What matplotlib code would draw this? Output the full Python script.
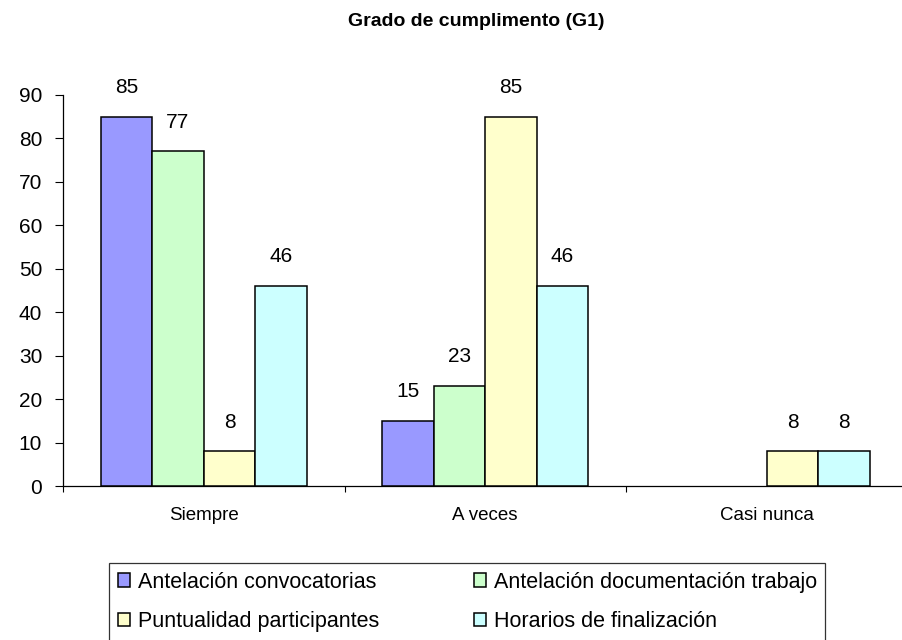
import matplotlib
matplotlib.use("Agg")
import matplotlib.pyplot as plt
import numpy as np

categories = ["Siempre", "A veces", "Casi nunca"]
series_names = ["Antelación convocatorias", "Antelación documentación trabajo",
                "Puntualidad participantes", "Horarios de finalización"]
antelacion_conv = [85, 15, np.nan]
antelacion_doc = [77, 23, np.nan]
puntualidad = [8, 85, 8]
horarios = [46, 46, 8]
series_values = [antelacion_conv, antelacion_doc, puntualidad, horarios]
colors = ["#9999FF", "#CCFFCC", "#FFFFCC", "#CCFFFF"]
yticks = [0, 10, 20, 30, 40, 50, 60, 70, 80, 90]

plt.rcParams['font.family'] = ['Liberation Sans', 'DejaVu Sans']

W, H = 902, 640
fig = plt.figure(figsize=(W / 100, H / 100), dpi=100)
left, right, top, bottom = 63, 907.5, 95, 486
ax = fig.add_axes([left / W, 1 - bottom / H, (right - left) / W, (bottom - top) / H])

x = np.arange(len(categories))
bw = 0.183
handles = []
for j, (name, vals, c) in enumerate(zip(series_names, series_values, colors)):
    xs = x + (j - 1.5) * bw
    bars = ax.bar(xs, vals, width=bw, color=c, edgecolor="black", linewidth=1.1, label=name, zorder=3)
    handles.append(bars)
    for xi, v in zip(xs, vals):
        if not np.isnan(v):
            ax.annotate(f"{v:g}", (xi, v), xytext=(0, 21), textcoords="offset points",
                        ha="center", va="center", fontsize=15)

ax.set_xlim(-0.5, len(categories) - 0.5)
ax.set_ylim(0, 90)
ax.set_yticks(yticks)
ax.tick_params(axis="y", direction="out", length=6, width=0.8, pad=9, labelsize=15)
ax.set_xticks(np.arange(len(categories) + 1) - 0.5)
ax.set_xticklabels([])
ax.set_xticks(x, minor=True)
ax.set_xticklabels(categories, minor=True)
ax.tick_params(axis="x", which="major", direction="out", length=4.5, width=0.8)
ax.tick_params(axis="x", which="minor", length=0, pad=15, labelsize=13.5)
for s in ["top", "right"]:
    ax.spines[s].set_visible(False)
for s in ["left", "bottom"]:
    ax.spines[s].set_linewidth(0.9)

fig.text(476 / W, 1 - 22 / H, "Grado de cumplimento (G1)", ha="center", va="center",
         fontsize=14, fontweight="bold")

order = [0, 2, 1, 3]
leg = fig.legend([handles[i] for i in order], [series_names[i] for i in order],
                 loc="upper left", bbox_to_anchor=(109 / W, 1 - 563 / H),
                 ncol=2, fontsize=15.5, frameon=True, fancybox=False,
                 handlelength=0.56, handleheight=0.56, handletextpad=0.37, borderaxespad=0,
                 labelspacing=0.86, borderpad=0.4, columnspacing=4.4)
leg.get_frame().set_edgecolor("black")
leg.get_frame().set_linewidth(0.9)

fig.savefig("out.png", dpi=100)
